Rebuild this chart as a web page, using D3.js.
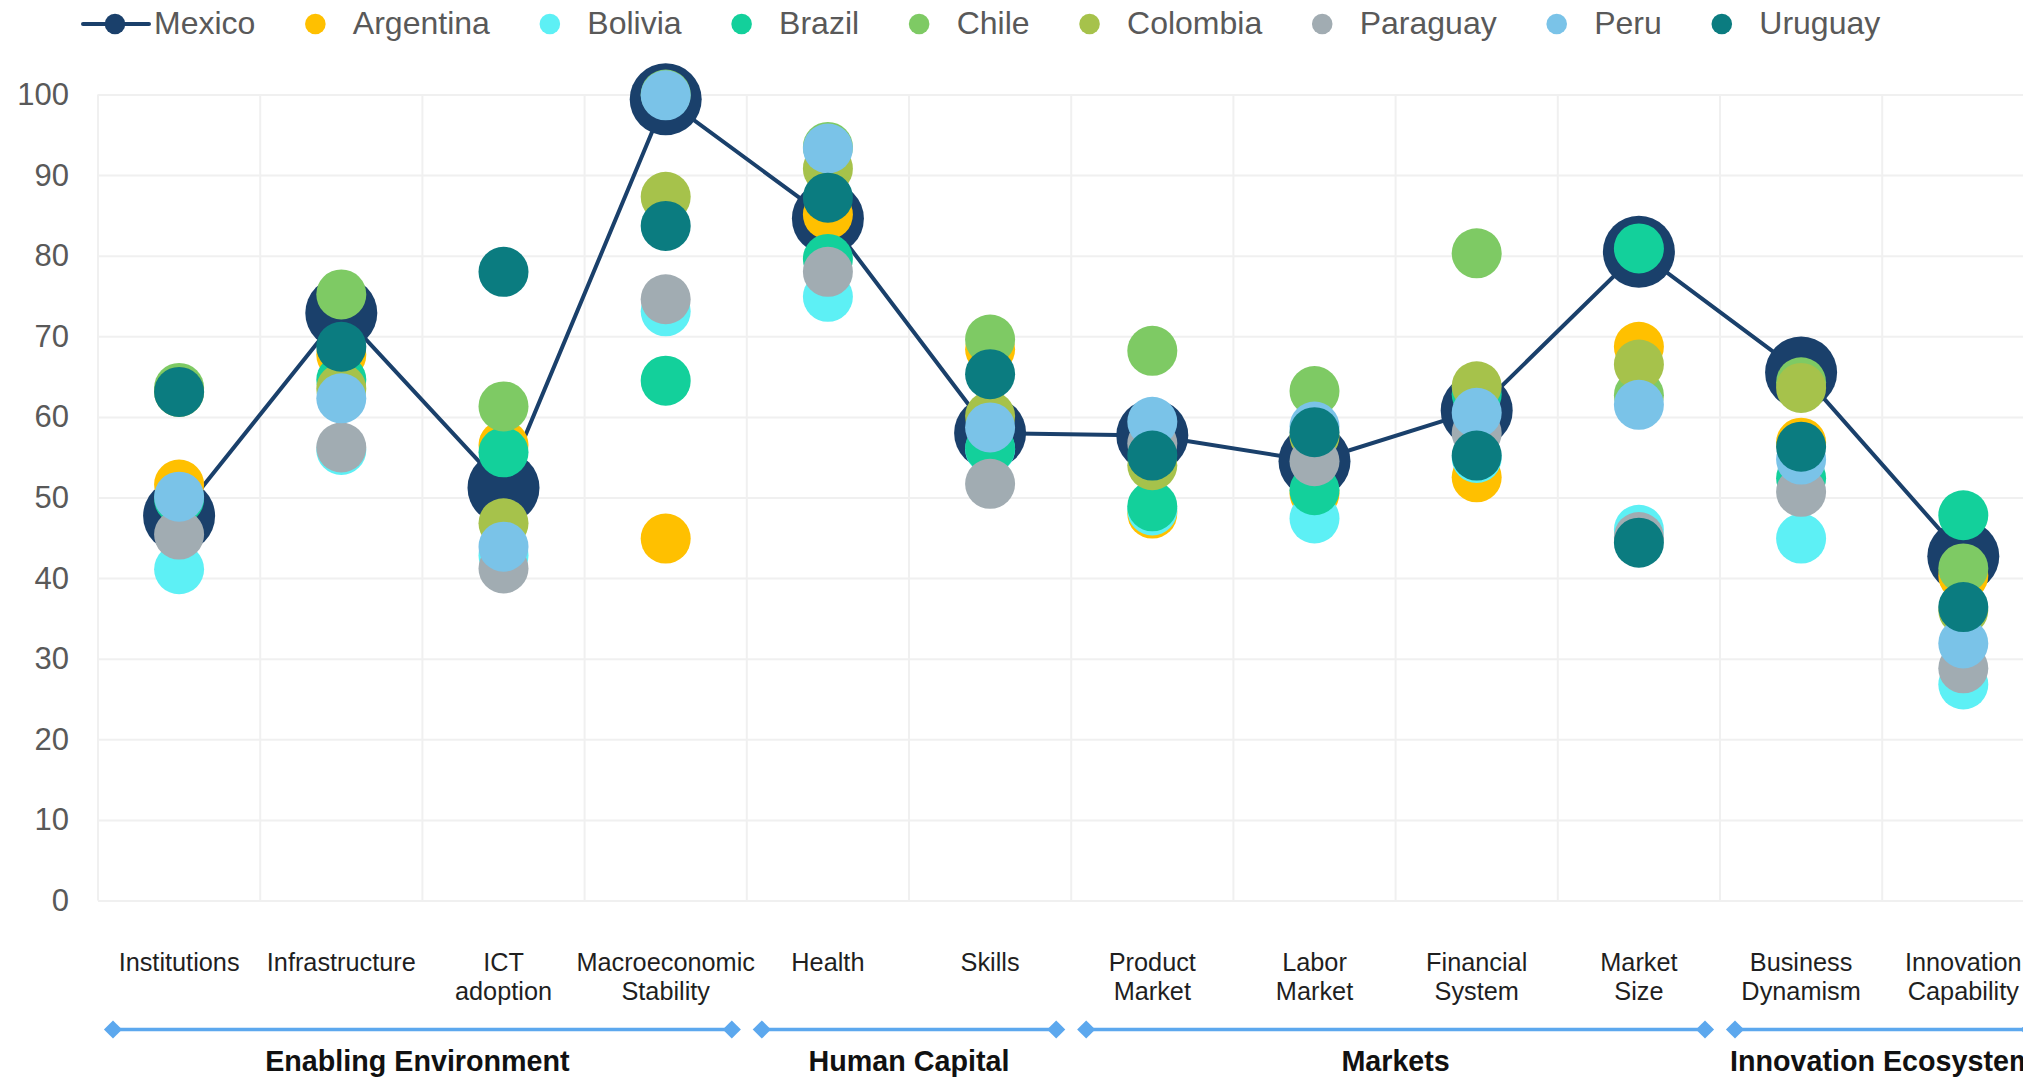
<!DOCTYPE html>
<html>
<head>
<meta charset="utf-8">
<script src="https://cdn.jsdelivr.net/npm/d3@7"></script>
<style>
  html, body { margin: 0; padding: 0; background: #ffffff; overflow: hidden; }
  svg { display: block; font-family: "Liberation Sans", Arial, Helvetica, sans-serif; }
</style>
</head>
<body>
<svg id="chart"></svg>
<script>
// Global Competitiveness pillars, scores 0-100
const categories = [
  "Institutions", "Infrastructure", "ICT adoption", "Macroeconomic Stability",
  "Health", "Skills", "Product Market", "Labor Market",
  "Financial System", "Market Size", "Business Dynamism", "Innovation Capability"
];

const countries = ["Mexico", "Argentina", "Bolivia", "Brazil", "Chile", "Colombia", "Paraguay", "Peru", "Uruguay"];
const colors    = ["#1a406b", "#ffc000", "#5df0f5", "#13d09b", "#7eca64", "#a6c24b", "#a1acb2", "#7ac3e8", "#0b7c80"];

const mexico    = [47.7, 72.9, 51.2, 99.4, 84.6, 58.0, 57.7, 54.5, 60.8, 80.5, 65.5, 42.7];
const argentina = [51.6, 67.7, 56.5, 44.9, 85.1, 68.4, 48.0, 50.5, 52.5, 68.7, 56.8, 40.3];
const bolivia   = [41.1, 55.9, 42.8, 73.1, 74.9, 56.0, 48.4, 47.4, 54.9, 46.0, 44.9, 26.8];
const brazil    = [49.8, 64.6, 55.6, 64.5, 79.6, 56.1, 48.9, 50.9, 62.8, 80.9, 52.4, 47.8];
const chile     = [63.6, 75.2, 61.3, 100.0, 93.5, 69.6, 68.2, 63.2, 80.3, 62.7, 64.3, 41.2];
const colombia  = [63.1, 63.5, 46.8, 87.3, 90.8, 60.1, 54.0, 57.6, 63.8, 66.5, 63.6, 36.0];
const paraguay  = [45.4, 56.2, 41.2, 74.6, 78.0, 51.7, 56.7, 54.5, 58.0, 45.1, 50.7, 28.8];
const peru      = [50.1, 62.3, 43.9, 99.9, 93.3, 58.7, 59.4, 58.8, 60.5, 61.5, 54.7, 31.9];
const uruguay   = [63.1, 68.7, 78.0, 83.7, 87.2, 65.3, 55.2, 58.1, 55.2, 44.4, 56.3, 36.4];

const yTicks = [0, 10, 20, 30, 40, 50, 60, 70, 80, 90, 100];

const groups     = ["Enabling Environment", "Human Capital", "Markets", "Innovation Ecosystem"];
const groupSpans = [[0, 3], [4, 5], [6, 9], [10, 11]];

const seriesValues = [mexico, argentina, bolivia, brazil, chile, colombia, paraguay, peru, uruguay];

// ---- layout ----
const W = 2060, H = 1077;
const svg = d3.select("#chart").attr("width", W).attr("height", H);

const x = d3.scaleBand().domain(categories).range([98, 2044.4]).padding(0);
const y = d3.scaleLinear().domain([0, 100]).range([900.5, 94.5]);
const cx = i => x(categories[i]) + x.bandwidth() / 2;
const plotW = x.range()[1] - x.range()[0];

const gridColor = "#f0f0f0";

// horizontal grid + y tick labels
const gy = svg.append("g")
  .attr("transform", `translate(${x.range()[0]},0)`)
  .call(d3.axisLeft(y).tickValues(yTicks).tickSize(-plotW).tickPadding(29));
gy.attr("font-family", null).attr("font-size", null);
gy.select(".domain").remove();
gy.selectAll(".tick line").attr("stroke", gridColor).attr("stroke-width", 2);
gy.selectAll(".tick text").attr("fill", "#595959").attr("font-size", 31);

// vertical grid at band boundaries
const bounds = categories.map(c => x(c)).concat([x.range()[1]]);
svg.append("g").selectAll("line").data(bounds).join("line")
  .attr("x1", d => d).attr("x2", d => d)
  .attr("y1", y(100)).attr("y2", y(0))
  .attr("stroke", gridColor).attr("stroke-width", 2);

// Mexico line
const line = d3.line().x((d, i) => cx(i)).y(d => y(d));
svg.append("path")
  .datum(mexico)
  .attr("d", line)
  .attr("fill", "none")
  .attr("stroke", colors[0])
  .attr("stroke-width", 4)
  .attr("stroke-linejoin", "round");

// dots: Mexico first (larger), then the other countries in legend order
seriesValues.forEach((vals, s) => {
  svg.append("g").selectAll("circle").data(vals).join("circle")
    .attr("cx", (d, i) => cx(i))
    .attr("cy", d => y(d))
    .attr("r", s === 0 ? 36 : 25)
    .attr("fill", colors[s]);
});

// category labels
const xl = svg.append("g");
categories.forEach((c, i) => {
  const words = c.split(" ");
  const t = xl.append("text")
    .attr("x", cx(i)).attr("y", 970.7)
    .attr("text-anchor", "middle")
    .attr("font-size", 25.3)
    .attr("fill", "#1f1f1f");
  words.forEach((w, k) => {
    t.append("tspan").attr("x", cx(i)).attr("dy", k === 0 ? 0 : 29.7).text(w);
  });
});

// pillar group brackets
const bracketColor = "#5ca8ee";
const by = 1029.5, inset = 15;
const diamond = d3.symbol().type(d3.symbolSquare).size(165);
groups.forEach((g, k) => {
  const [s, e] = groupSpans[k];
  const x0 = x(categories[s]) + inset;
  const x1 = x(categories[e]) + x.bandwidth() - inset;
  const gg = svg.append("g");
  gg.append("line")
    .attr("x1", x0).attr("x2", x1).attr("y1", by).attr("y2", by)
    .attr("stroke", bracketColor).attr("stroke-width", 3.5);
  [x0, x1].forEach(px => {
    gg.append("path")
      .attr("d", diamond())
      .attr("transform", `translate(${px},${by}) rotate(45)`)
      .attr("fill", bracketColor);
  });
  gg.append("text")
    .attr("x", (x0 + x1) / 2 - (k === 0 ? 5 : 0))
    .attr("y", 1071)
    .attr("text-anchor", "middle")
    .attr("font-size", 28.7)
    .attr("font-weight", "bold")
    .attr("fill", "#111111")
    .text(g);
});

// legend
const lg = svg.append("g");
const ly = 24;
let lx = 83;
countries.forEach((name, s) => {
  let dotX;
  if (s === 0) {
    lg.append("line")
      .attr("x1", lx).attr("x2", lx + 66).attr("y1", ly).attr("y2", ly)
      .attr("stroke", colors[0]).attr("stroke-width", 4).attr("stroke-linecap", "round");
    dotX = lx + 32;
  } else {
    dotX = lx;
  }
  lg.append("circle").attr("cx", dotX).attr("cy", ly).attr("r", 10.3).attr("fill", colors[s]);
  const tx = s === 0 ? lx + 71 : dotX + 37.5;
  const t = lg.append("text")
    .attr("x", tx).attr("y", 34)
    .attr("font-size", 32)
    .attr("fill", "#595959")
    .text(name);
  lx = tx + t.node().getComputedTextLength() + 60;
});
</script>
</body>
</html>
